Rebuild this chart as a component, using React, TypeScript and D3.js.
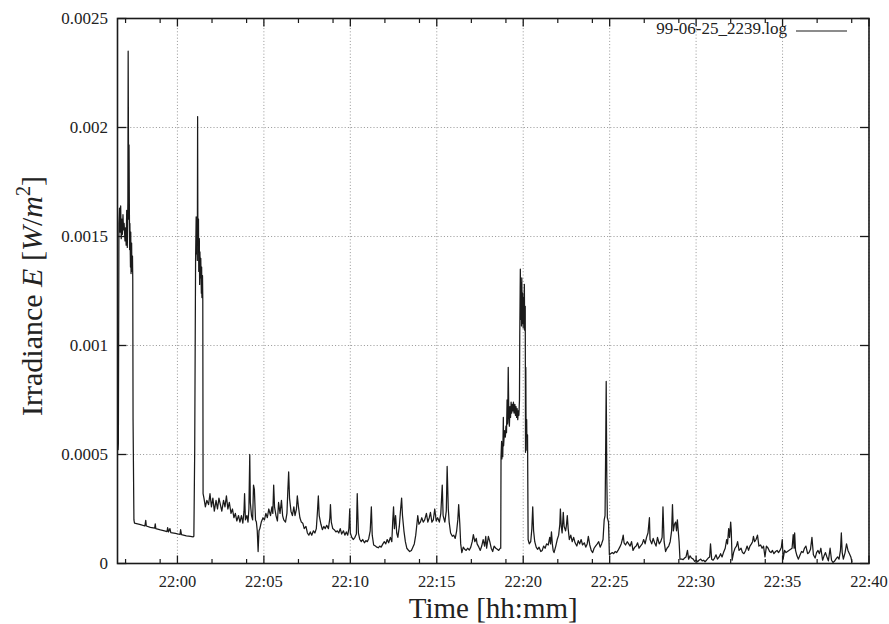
import React from 'react';
import * as d3 from 'd3';

// ---------- data (time = seconds after 22:00:00, irradiance in W/m^2) ----------
const burst1: [number, number][] = [
  [-206, 5.2e-4], [-205, 5.5e-4], [-203, 15.6e-4], [-201, 16.3e-4], [-199, 15.2e-4], [-197, 16.4e-4],
  [-195, 14.9e-4], [-193, 15.8e-4], [-191, 15.1e-4], [-189, 16.0e-4], [-187, 15.3e-4], [-185, 15.6e-4],
  [-182, 14.8e-4], [-180, 15.4e-4], [-178, 14.6e-4], [-176, 16.2e-4], [-174, 14.5e-4], [-172, 16.6e-4],
  [-171, 23.5e-4], [-169, 15.8e-4], [-168, 19.2e-4], [-166, 14.4e-4], [-165, 15.6e-4], [-163, 13.6e-4],
  [-162, 15.2e-4], [-161, 13.3e-4], [-159, 14.7e-4], [-158, 13.4e-4], [-156, 14.1e-4], [-155, 13.0e-4],
  [-154, 6.6e-4], [-151, 2.0e-4],
];

const shade1: [number, number][] = [
  [-149, 1.85e-4], [-128, 1.78e-4], [-113, 1.72e-4], [-110, 1.98e-4], [-108, 1.72e-4], [-94, 1.66e-4],
  [-79, 1.62e-4], [-77, 1.82e-4], [-75, 1.60e-4], [-59, 1.54e-4], [-45, 1.50e-4], [-36, 1.46e-4],
  [-34, 1.65e-4], [-31, 1.45e-4], [-26, 1.60e-4], [-23, 1.42e-4], [-7, 1.38e-4], [9, 1.33e-4],
  [11, 1.55e-4], [14, 1.32e-4], [31, 1.27e-4], [45, 1.24e-4], [54, 1.22e-4],
];

const burst2: [number, number][] = [
  [57, 1.25e-4], [60, 5.3e-4], [63, 14.0e-4], [65, 15.9e-4], [66, 14.2e-4], [67, 15.2e-4], [69, 13.9e-4],
  [70, 20.5e-4], [71, 14.6e-4], [73, 15.8e-4], [74, 13.4e-4], [76, 14.9e-4], [77, 12.8e-4], [78, 14.3e-4],
  [80, 13.1e-4], [81, 14.0e-4], [83, 12.4e-4], [84, 13.6e-4], [85, 12.2e-4], [87, 13.2e-4], [88, 12.1e-4],
  [89, 3.2e-4], [92, 3.0e-4],
];

const low1: [number, number][] = [
  [97, 2.6e-4], [102, 2.9e-4], [108, 2.7e-4], [113, 3.2e-4], [118, 2.6e-4], [123, 3.0e-4], [128, 2.4e-4],
  [134, 2.9e-4], [139, 2.5e-4], [144, 3.0e-4], [149, 2.7e-4], [154, 2.4e-4], [160, 2.9e-4], [165, 2.6e-4],
  [170, 3.1e-4], [175, 2.5e-4], [180, 2.8e-4], [186, 2.3e-4], [191, 2.5e-4], [196, 2.1e-4], [201, 2.3e-4],
  [206, 1.95e-4], [212, 2.2e-4], [217, 1.9e-4], [222, 2.2e-4], [227, 1.85e-4], [231, 2.4e-4], [233, 3.2e-4],
  [236, 2.0e-4], [241, 2.2e-4], [245, 1.9e-4], [248, 2.5e-4], [251, 5.0e-4], [253, 2.8e-4], [257, 2.2e-4],
  [261, 2.0e-4], [264, 3.6e-4], [267, 3.4e-4], [271, 2.0e-4], [274, 1.9e-4], [277, 1.5e-4], [280, 0.55e-4],
  [283, 1.5e-4], [286, 1.6e-4], [291, 1.9e-4], [297, 2.1e-4], [302, 2.0e-4], [307, 2.3e-4], [312, 2.1e-4],
  [317, 2.5e-4], [323, 2.2e-4], [328, 2.6e-4], [331, 2.3e-4], [334, 3.6e-4], [337, 2.6e-4], [342, 2.2e-4],
  [347, 1.95e-4], [351, 2.8e-4], [356, 2.3e-4], [361, 2.9e-4], [365, 2.2e-4], [369, 2.0e-4], [375, 1.9e-4],
  [380, 2.3e-4], [383, 3.3e-4], [386, 4.2e-4], [389, 3.0e-4], [394, 2.4e-4], [399, 2.2e-4], [404, 2.6e-4],
  [408, 2.2e-4], [413, 2.5e-4], [416, 3.1e-4], [420, 2.6e-4], [425, 2.1e-4], [430, 1.9e-4], [435, 1.85e-4],
  [440, 1.6e-4], [446, 1.7e-4], [451, 1.4e-4], [456, 1.3e-4], [461, 1.45e-4], [466, 1.3e-4], [472, 1.5e-4],
  [477, 1.4e-4], [482, 1.6e-4], [486, 2.4e-4], [489, 3.1e-4], [492, 2.2e-4], [498, 1.8e-4], [503, 1.55e-4],
  [508, 1.7e-4], [513, 1.6e-4], [518, 1.75e-4], [524, 1.6e-4], [529, 2.1e-4], [531, 2.7e-4], [534, 1.9e-4],
  [539, 1.6e-4], [544, 1.55e-4], [550, 1.45e-4], [555, 1.5e-4], [560, 1.4e-4], [565, 1.6e-4], [570, 1.35e-4],
  [576, 1.5e-4], [581, 1.3e-4], [586, 1.45e-4], [591, 1.3e-4], [595, 1.6e-4], [598, 2.5e-4], [600, 1.4e-4],
  [605, 1.2e-4], [610, 1.1e-4], [616, 1.2e-4], [621, 1.35e-4], [624, 3.2e-4], [628, 1.4e-4], [633, 1.1e-4],
  [638, 1.0e-4], [643, 1.1e-4], [649, 0.95e-4], [654, 1.05e-4], [659, 1.0e-4], [664, 1.15e-4], [669, 1.5e-4],
  [673, 2.6e-4], [676, 1.3e-4], [681, 0.85e-4], [687, 0.8e-4], [692, 0.75e-4], [697, 0.72e-4], [702, 0.8e-4],
  [707, 0.75e-4], [713, 0.9e-4], [718, 1.0e-4], [723, 0.9e-4], [728, 1.1e-4], [733, 0.95e-4], [739, 1.2e-4],
  [744, 1.0e-4], [747, 1.9e-4], [750, 2.6e-4], [753, 1.6e-4], [757, 2.2e-4], [761, 1.4e-4], [765, 1.2e-4],
  [770, 1.7e-4], [774, 2.4e-4], [778, 3.0e-4], [781, 2.2e-4], [786, 1.5e-4], [791, 1.0e-4], [796, 0.7e-4],
  [801, 0.62e-4], [806, 0.55e-4], [812, 0.6e-4], [817, 0.75e-4], [822, 0.9e-4], [827, 1.3e-4], [831, 1.8e-4],
  [834, 2.2e-4], [838, 1.8e-4], [843, 1.9e-4], [848, 2.1e-4], [853, 1.9e-4], [858, 2.0e-4], [864, 2.3e-4],
  [869, 1.9e-4], [874, 2.1e-4], [878, 2.35e-4], [883, 1.9e-4], [888, 2.0e-4], [893, 2.5e-4], [898, 1.95e-4],
  [903, 2.1e-4], [909, 1.9e-4], [914, 2.3e-4], [919, 3.6e-4], [922, 2.2e-4], [928, 1.9e-4], [933, 2.4e-4],
  [936, 4.45e-4], [940, 2.5e-4], [943, 1.9e-4], [948, 1.4e-4], [954, 1.25e-4], [959, 1.3e-4], [964, 1.15e-4],
  [969, 1.5e-4], [973, 2.0e-4], [976, 2.7e-4], [980, 1.8e-4], [983, 0.9e-4], [987, 0.5e-4], [992, 0.75e-4],
  [997, 0.65e-4], [1002, 0.6e-4], [1007, 0.7e-4], [1013, 0.62e-4], [1018, 0.75e-4], [1023, 1.0e-4],
  [1027, 1.33e-4], [1032, 1.0e-4], [1037, 1.15e-4], [1040, 0.9e-4], [1046, 0.75e-4], [1051, 0.6e-4],
  [1056, 0.8e-4], [1061, 1.1e-4], [1066, 0.8e-4], [1070, 1.24e-4], [1073, 0.7e-4], [1079, 1.24e-4],
  [1084, 1.0e-4], [1089, 0.7e-4], [1094, 0.55e-4], [1099, 0.8e-4], [1105, 0.7e-4], [1110, 0.65e-4],
  [1115, 0.6e-4], [1120, 0.7e-4],
];

const burst3: [number, number][] = [
  [1122, 0.7e-4], [1123, 4.9e-4], [1125, 5.6e-4], [1126, 4.8e-4], [1128, 5.5e-4], [1129, 4.9e-4],
  [1131, 6.7e-4], [1132, 5.4e-4], [1135, 6.1e-4], [1138, 5.8e-4], [1140, 6.3e-4], [1142, 6.0e-4],
  [1144, 7.5e-4], [1146, 6.4e-4], [1148, 9.0e-4], [1150, 6.8e-4], [1152, 6.3e-4], [1154, 7.2e-4],
  [1156, 6.7e-4], [1158, 7.4e-4], [1160, 6.9e-4], [1162, 7.3e-4], [1164, 7.0e-4], [1166, 7.4e-4],
  [1168, 6.9e-4], [1171, 7.3e-4], [1173, 6.8e-4], [1175, 7.2e-4], [1177, 6.7e-4], [1179, 7.1e-4],
  [1181, 6.6e-4], [1183, 7.0e-4], [1185, 6.8e-4], [1187, 7.5e-4], [1188, 10.5e-4], [1190, 13.5e-4],
  [1191, 11.2e-4], [1193, 12.9e-4], [1194, 10.9e-4], [1195, 13.1e-4], [1197, 11.0e-4], [1198, 12.4e-4],
  [1200, 10.8e-4], [1201, 12.2e-4], [1202, 11.0e-4], [1204, 12.8e-4], [1205, 10.7e-4], [1207, 11.8e-4],
  [1208, 5.1e-4], [1209, 9.0e-4], [1210, 6.0e-4], [1212, 6.6e-4], [1213, 5.2e-4], [1215, 5.9e-4],
  [1216, 3.5e-4], [1217, 1.1e-4],
];

const low2: [number, number][] = [
  [1221, 0.9e-4], [1226, 1.0e-4], [1230, 1.6e-4], [1233, 2.6e-4], [1236, 1.5e-4], [1240, 1.0e-4],
  [1245, 0.75e-4], [1250, 0.65e-4], [1255, 0.75e-4], [1261, 0.55e-4], [1266, 0.6e-4], [1271, 0.8e-4],
  [1276, 0.7e-4], [1281, 0.9e-4], [1287, 0.85e-4], [1292, 1.2e-4], [1295, 0.9e-4], [1298, 1.45e-4],
  [1301, 0.9e-4], [1304, 0.6e-4], [1307, 0.5e-4], [1313, 0.8e-4], [1318, 1.1e-4], [1323, 1.3e-4],
  [1327, 1.8e-4], [1329, 2.5e-4], [1332, 1.7e-4], [1335, 1.4e-4], [1339, 2.35e-4], [1342, 1.7e-4],
  [1347, 1.5e-4], [1350, 1.75e-4], [1353, 2.2e-4], [1356, 1.6e-4], [1360, 1.1e-4], [1365, 1.3e-4],
  [1370, 1.0e-4], [1375, 1.2e-4], [1380, 0.95e-4], [1386, 0.8e-4], [1391, 1.05e-4], [1396, 0.9e-4],
  [1401, 1.1e-4], [1406, 0.85e-4], [1412, 0.95e-4], [1417, 0.75e-4], [1422, 0.9e-4], [1426, 1.24e-4],
  [1431, 0.85e-4], [1436, 0.6e-4], [1441, 0.5e-4], [1446, 0.7e-4], [1451, 0.8e-4], [1457, 0.9e-4],
  [1462, 1.0e-4], [1467, 0.75e-4], [1472, 0.9e-4], [1477, 1.1e-4], [1481, 2.0e-4], [1484, 2.2e-4],
  [1486, 5.0e-4], [1488, 8.35e-4], [1490, 4.0e-4], [1492, 2.1e-4], [1496, 1.9e-4], [1499, 0.4e-4],
  [1503, 0.45e-4], [1509, 0.5e-4], [1514, 0.45e-4], [1519, 0.55e-4], [1524, 0.5e-4], [1529, 0.6e-4],
  [1535, 0.75e-4], [1540, 0.9e-4], [1544, 1.1e-4], [1547, 1.3e-4], [1550, 0.95e-4], [1555, 0.85e-4],
  [1561, 1.0e-4], [1566, 0.9e-4], [1571, 0.8e-4], [1576, 1.0e-4], [1581, 0.6e-4], [1587, 0.75e-4],
  [1592, 0.8e-4], [1597, 0.95e-4], [1602, 0.7e-4], [1607, 0.8e-4], [1613, 0.9e-4], [1618, 1.1e-4],
  [1623, 0.9e-4], [1628, 1.2e-4], [1633, 1.4e-4], [1638, 2.1e-4], [1640, 1.1e-4], [1646, 0.9e-4],
  [1651, 1.15e-4], [1656, 0.95e-4], [1661, 0.8e-4], [1666, 1.2e-4], [1672, 0.9e-4], [1677, 1.0e-4],
  [1682, 1.2e-4], [1685, 2.6e-4], [1689, 1.0e-4], [1694, 0.55e-4], [1699, 0.7e-4], [1705, 0.8e-4],
  [1710, 1.0e-4], [1715, 1.5e-4], [1718, 2.7e-4], [1721, 1.5e-4], [1725, 1.8e-4], [1729, 1.9e-4],
  [1732, 1.5e-4], [1735, 2.0e-4], [1738, 1.5e-4], [1741, 1.0e-4], [1744, 0.2e-4], [1750, 0.2e-4],
  [1755, 0.18e-4], [1760, 0.25e-4], [1765, 0.3e-4], [1770, 0.6e-4], [1774, 0.2e-4], [1779, 0.35e-4],
  [1784, 0.25e-4], [1790, 0.2e-4], [1795, 0.1e-4], [1800, 0.15e-4], [1805, 0.08e-4], [1810, 0.15e-4],
  [1816, 0.2e-4], [1821, 0.12e-4], [1826, 0.15e-4], [1831, 0.08e-4], [1836, 0.15e-4], [1842, 0.25e-4],
  [1847, 0.3e-4], [1850, 0.9e-4], [1854, 0.2e-4], [1859, 0.15e-4], [1864, 0.25e-4], [1869, 0.4e-4],
  [1874, 0.2e-4], [1880, 0.3e-4], [1885, 0.45e-4], [1890, 0.3e-4], [1895, 0.5e-4], [1901, 0.7e-4],
  [1906, 1.1e-4], [1909, 0.9e-4], [1913, 1.6e-4], [1916, 1.2e-4], [1920, 1.9e-4], [1922, 1.5e-4],
  [1925, 0.15e-4], [1930, 0.5e-4], [1935, 0.7e-4], [1940, 0.8e-4], [1944, 1.0e-4], [1949, 0.6e-4],
  [1956, 0.7e-4], [1961, 0.5e-4], [1966, 0.45e-4], [1972, 0.6e-4], [1977, 0.8e-4], [1982, 0.6e-4],
  [1987, 0.8e-4], [1992, 0.9e-4], [1996, 1.0e-4], [1999, 1.24e-4], [2003, 1.0e-4], [2008, 1.1e-4],
  [2013, 1.3e-4], [2018, 0.8e-4], [2024, 0.85e-4], [2029, 0.7e-4], [2034, 0.8e-4], [2039, 0.3e-4],
  [2044, 0.8e-4], [2050, 0.7e-4], [2055, 0.55e-4], [2060, 0.5e-4], [2065, 0.6e-4], [2070, 0.45e-4],
  [2076, 0.55e-4], [2081, 0.6e-4], [2086, 0.5e-4], [2091, 0.6e-4], [2096, 0.75e-4], [2099, 1.1e-4],
  [2102, 0.2e-4], [2107, 0.6e-4], [2112, 0.5e-4], [2117, 0.55e-4], [2122, 0.6e-4], [2128, 0.65e-4],
  [2133, 0.7e-4], [2137, 1.33e-4], [2140, 0.7e-4], [2142, 1.4e-4], [2145, 0.6e-4], [2150, 0.35e-4],
  [2155, 0.2e-4], [2161, 0.4e-4], [2166, 0.55e-4], [2171, 0.5e-4], [2176, 0.7e-4], [2181, 0.8e-4],
  [2187, 0.45e-4], [2192, 0.5e-4], [2197, 0.65e-4], [2202, 1.2e-4], [2207, 0.4e-4], [2213, 0.25e-4],
  [2218, 0.5e-4], [2223, 0.6e-4], [2228, 0.45e-4], [2233, 0.7e-4], [2239, 0.15e-4], [2244, 0.35e-4],
  [2249, 0.5e-4], [2254, 0.3e-4], [2259, 0.12e-4], [2265, 0.7e-4], [2270, 0.15e-4], [2275, 0.05e-4],
  [2280, 0.1e-4], [2285, 0.2e-4], [2291, 0.3e-4], [2296, 0.2e-4], [2301, 0.6e-4], [2304, 1.4e-4],
  [2307, 0.5e-4], [2311, 0.2e-4], [2317, 0.5e-4], [2322, 0.9e-4], [2327, 0.6e-4], [2332, 0.45e-4],
  [2337, 0.3e-4], [2341, 0.05e-4],
];

// ---------- axes ----------
const axisStartSec = -208; // 21:56:32
const axisEndSec = 2400;   // 22:40:00
const xMajorMinutes = [0, 5, 10, 15, 20, 25, 30, 35, 40];
const xMinorMinutes = [-3, -1, 2, 4, 7, 9, 12, 14, 17, 19, 22, 24, 27, 29, 32, 34, 37, 39];
const yTicks = [0, 0.0005, 0.001, 0.0015, 0.002, 0.0025];
const yTickLabels = ['0', '0.0005', '0.001', '0.0015', '0.002', '0.0025'];
const legendLabel = '99-06-25_2239.log';

const W = 889;
const H = 624;
const L = 117.5, R = 869, T = 18.5, B = 563.5;
const FONT = "'Liberation Serif', 'Times New Roman', serif";
const BASE = new Date(2000, 0, 1, 22, 0, 0).getTime();
const toDate = (s: number) => new Date(BASE + s * 1000);

export default function App() {
  const series = [...burst1, ...shade1, ...burst2, ...low1, ...burst3, ...low2];
  const x = d3.scaleTime().domain([toDate(axisStartSec), toDate(axisEndSec)]).range([L, R]);
  const y = d3.scaleLinear().domain([0, 0.0025]).range([B, T]);
  const fmt = d3.timeFormat('%H:%M');
  const line = d3.line<[number, number]>()
    .x((d) => x(toDate(d[0])))
    .y((d) => y(d[1]));

  const ink = '#1a1a1a';
  return (
    <svg width={W} height={H} style={{ position: 'absolute', left: 0, top: 0, background: '#fff' }}
      fontFamily={FONT}>
      <defs>
        <clipPath id="plot">
          <rect x={L} y={T} width={R - L} height={B - T} />
        </clipPath>
      </defs>
      <rect x={0} y={0} width={W} height={H} fill="#fff" />
      {/* grid */}
      {xMajorMinutes.map((m) => {
        const px = x(toDate(m * 60));
        return <line key={'gx' + m} x1={px} x2={px} y1={T} y2={B} stroke="#8a8a8a" strokeWidth={0.9} strokeDasharray="1,2.2" />;
      })}
      {yTicks.slice(1, -1).map((v) => (
        <line key={'gy' + v} x1={L} x2={R} y1={y(v)} y2={y(v)} stroke="#8a8a8a" strokeWidth={0.9} strokeDasharray="1,2.2" />
      ))}
      {/* data */}
      <path d={line(series) || ''} fill="none" stroke={ink} strokeWidth={1.25} strokeLinejoin="round" clipPath="url(#plot)" />
      {/* ticks */}
      {xMajorMinutes.map((m) => {
        const px = x(toDate(m * 60));
        return (
          <g key={'tx' + m}>
            <line x1={px} x2={px} y1={B} y2={B - 8} stroke={ink} strokeWidth={1.3} />
            <line x1={px} x2={px} y1={T} y2={T + 8} stroke={ink} strokeWidth={1.3} />
            <text x={px} y={587} textAnchor="middle" fontSize={16.5} fill="#222">{fmt(toDate(m * 60))}</text>
          </g>
        );
      })}
      {xMinorMinutes.map((m) => {
        const px = x(toDate(m * 60));
        return (
          <g key={'mx' + m}>
            <line x1={px} x2={px} y1={B} y2={B - 4.5} stroke={ink} strokeWidth={1.2} />
            <line x1={px} x2={px} y1={T} y2={T + 4.5} stroke={ink} strokeWidth={1.2} />
          </g>
        );
      })}
      {yTicks.map((v, i) => (
        <g key={'ty' + v}>
          <line x1={L} x2={L + 9} y1={y(v)} y2={y(v)} stroke={ink} strokeWidth={1.3} />
          <line x1={R} x2={R - 9} y1={y(v)} y2={y(v)} stroke={ink} strokeWidth={1.3} />
          <text x={108} y={y(v)} dy="0.35em" textAnchor="end" fontSize={17} fill="#222">{yTickLabels[i]}</text>
        </g>
      ))}
      {/* border */}
      <rect x={L} y={T} width={R - L} height={B - T} fill="none" stroke={ink} strokeWidth={1.6} />
      {/* legend */}
      <text x={787} y={34} textAnchor="end" fontSize={17} fill="#222">{legendLabel}</text>
      <line x1={796} x2={847} y1={31} y2={31} stroke={ink} strokeWidth={1.2} />
      {/* axis titles */}
      <text x={(L + R) / 2} y={618} textAnchor="middle" fontSize={29} fill="#222">Time [hh:mm]</text>
      <text transform="translate(42,296) rotate(-90)" textAnchor="middle" fontSize={30} fill="#222">
        <tspan>Irradiance </tspan>
        <tspan fontStyle="italic">E</tspan>
        <tspan> [</tspan>
        <tspan fontStyle="italic">W</tspan>
        <tspan>/</tspan>
        <tspan fontStyle="italic">m</tspan>
        <tspan fontSize={20} dy={-12}>2</tspan>
        <tspan dy={12}>]</tspan>
      </text>
    </svg>
  );
}
